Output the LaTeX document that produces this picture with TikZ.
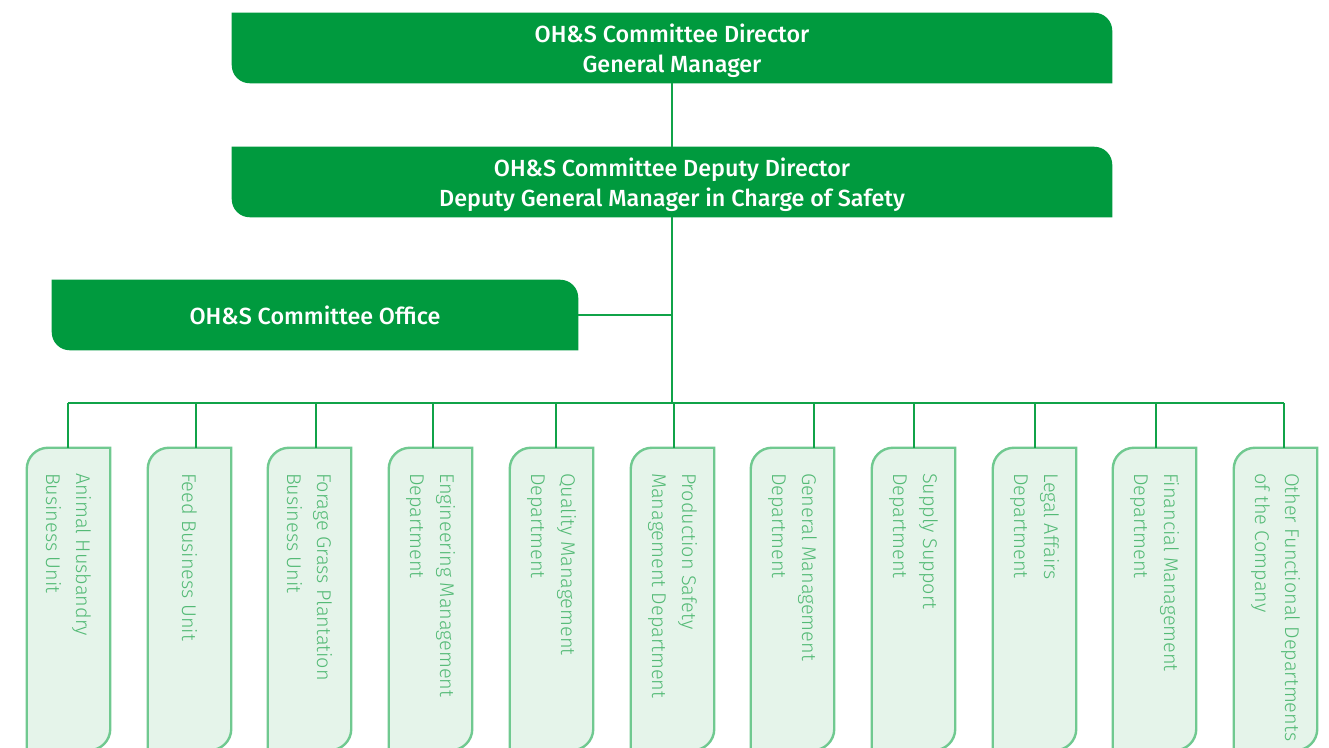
\documentclass[tikz,border=0pt]{standalone}
\usepackage{fontspec}
\setmainfont{Fira Sans}[UprightFont=* Light, BoldFont=* Medium]
\usetikzlibrary{backgrounds}

\definecolor{ohsgreen}{RGB}{0,154,62}
\definecolor{linkgreen}{RGB}{16,163,72}
\definecolor{unitfill}{RGB}{229,244,234}
\definecolor{unitline}{RGB}{112,201,144}
\definecolor{unittext}{RGB}{84,186,118}

\tikzset{
  headbox/.style={minimum height=52.5pt, inner sep=0pt, text=white, text depth=0pt,
    font=\bfseries\fontsize{17.5}{22.5}\selectfont, align=center},
  unitbox/.style={minimum width=62.25pt, minimum height=226.5pt, inner sep=0pt},
  unitlabel/.style={rotate=-90, anchor=west, align=left, inner sep=0pt,
    text=unittext, font=\fontsize{14.9}{22.5}\selectfont},
  link/.style={draw=linkgreen, line width=1.5pt},
}

% head boxes: round top right and bottom left
\newcommand\headshape[2]{(#1.north west) -- ([xshift=-#2]#1.north east)
  arc[start angle=90, end angle=0, radius=#2] -- (#1.south east)
  -- ([xshift=#2]#1.south west) arc[start angle=270, end angle=180, radius=#2] -- cycle}
% unit boxes: round top left and bottom right
\newcommand\unitshape[2]{([xshift=#2]#1.north west) -- (#1.north east)
  -- ([yshift=#2]#1.south east) arc[start angle=0, end angle=-90, radius=#2]
  -- (#1.south west) -- ([yshift=-#2]#1.north west) arc[start angle=180, end angle=90, radius=#2] -- cycle}

\begin{document}
\begin{tikzpicture}[x=0.75pt, y=0.75pt]

    \useasboundingbox (0,0) rectangle (1329,-747);

    % Committee
    \node[headbox, minimum width=660pt] (director) at (672,-48) {OH\&S Committee Director\\General Manager};
    \node[headbox, minimum width=660pt] (deputy) at (672,-182) {OH\&S Committee Deputy Director\\Deputy General Manager in Charge of Safety};
    \node[headbox, minimum width=394.5pt] (office) at (315,-315) {OH\&S Committee Office};

    % Units and departments
    \foreach \i/\x/\txt in {
        1/68.5/{Animal Husbandry\\Business Unit},
        2/189.5/{Feed Business Unit},
        3/309.5/{Forage Grass Plantation\\Business Unit},
        4/430.5/{Engineering Management\\Department},
        5/551.5/{Quality Management\\Department},
        6/672.5/{Production Safety\\Management Department},
        7/792.5/{General Management\\Department},
        8/913.5/{Supply Support\\Department},
        9/1034.5/{Legal Affairs\\Department},
        10/1154.5/{Financial Management\\Department},
        11/1275.5/{Other Functional Departments\\of the Company}} {
        \node[unitbox] (u\i) at (\x,-599) {};
        \node[unitlabel] (t\i) at ([yshift=-18.75pt]u\i.north) {\txt};
    }

    % Box shapes
    \begin{scope}[on background layer]
        \fill[ohsgreen] \headshape{director}{13.5pt};
        \fill[ohsgreen] \headshape{deputy}{13.5pt};
        \fill[ohsgreen] \headshape{office}{13.5pt};
        \foreach \i in {1,...,11}
            \filldraw[fill=unitfill, draw=unitline, line width=1.8pt] \unitshape{u\i}{16pt};
    \end{scope}

    % Connectors
    \coordinate (bus) at (672,-403);
    \draw[link] (director.south) -- (deputy.north);
    \draw[link] (deputy.south) -- (bus);
    \draw[link] (office.east) -- (office.east -| deputy.south);
    \draw[link] ([xshift=-0.4pt]u1.north |- bus) -- ([xshift=6pt]u11.north |- bus);
    \foreach \i/\dx in {1/-0.4,2/4.5,3/4.5,4/1.5,5/3,6/0.8,7/15.8,8/0,9/0,10/1,11/6}
        \draw[link] ([xshift=\dx pt]u\i.north) -- ([xshift=\dx pt]u\i.north |- bus);

\end{tikzpicture}
\end{document}
